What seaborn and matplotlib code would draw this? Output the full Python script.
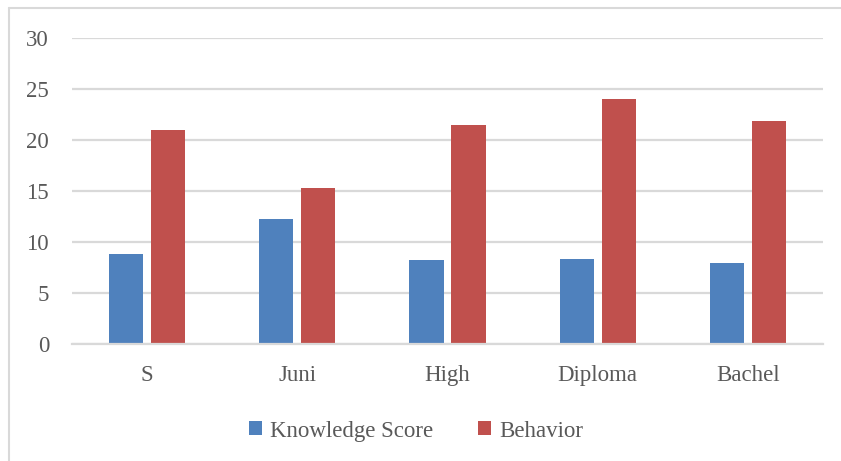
import matplotlib
matplotlib.use("Agg")
import matplotlib.pyplot as plt
from matplotlib.lines import Line2D
from matplotlib.patches import Patch
import seaborn as sns
import pandas as pd

categories = ["S", "Juni", "High", "Diploma", "Bachel"]
knowledge_score = [8.9, 12.3, 8.3, 8.4, 8.0]
behavior = [21.0, 15.3, 21.5, 24.0, 21.9]
series_names = ["Knowledge Score", "Behavior"]
y_ticks = [0, 5, 10, 15, 20, 25, 30]

colors = ["#4F81BD", "#C0504D"]
text_color = "#595959"
grid_color = "#D9D9D9"

df = pd.DataFrame({
    "category": categories * 2,
    "series": [series_names[0]] * len(categories) + [series_names[1]] * len(categories),
    "value": knowledge_score + behavior,
})

sns.set_theme(style="white")
plt.rcParams["font.family"] = ["Liberation Serif", "DejaVu Serif"]

W, H = 841, 461
fig = plt.figure(figsize=(W / 100, H / 100), dpi=100)
ax = fig.add_axes([72 / W, 1 - 344.3 / H, (823 - 72) / W, (344.3 - 38.3) / H])

sns.barplot(data=df, x="category", y="value", hue="series", order=categories,
            hue_order=series_names, palette=colors, width=0.56, gap=0.19,
            saturation=1, linewidth=0, edgecolor="none", ax=ax, legend=False)

ax.set_xlim(-0.5, len(categories) - 0.5)
ax.set_ylim(0, 30)
ax.set_yticks(y_ticks)
ax.set_yticklabels([str(t) for t in y_ticks])
ax.set_xlabel("")
ax.set_ylabel("")
ax.yaxis.grid(True, color=grid_color, linewidth=1.6)
ax.xaxis.grid(False)
ax.set_axisbelow(True)
for side in ["top", "right", "left"]:
    ax.spines[side].set_visible(False)
ax.spines["bottom"].set_color(grid_color)
ax.spines["bottom"].set_linewidth(1.6)
ax.tick_params(axis="y", length=0, pad=16.5, labelsize=16.5, labelcolor=text_color)
ax.tick_params(axis="x", length=0, pad=15, labelsize=16.5, labelcolor=text_color)

# Chart-area frame (left and top edges)
fig.add_artist(Line2D([9 / W, 9 / W], [0, 1 - 8 / H], transform=fig.transFigure,
                      color=grid_color, linewidth=1.5))
fig.add_artist(Line2D([9 / W, 1], [1 - 8 / H, 1 - 8 / H], transform=fig.transFigure,
                      color=grid_color, linewidth=1.5))

handles = [Patch(facecolor=c, edgecolor="none") for c in colors]
fig.legend(handles, series_names, loc="center", bbox_to_anchor=(416 / W, 1 - 431 / H),
           ncol=2, frameon=False, fontsize=16.5, labelcolor=text_color,
           handlelength=0.55, handleheight=0.55, handletextpad=0.35, columnspacing=2.0)

fig.savefig("out.png", dpi=100)
